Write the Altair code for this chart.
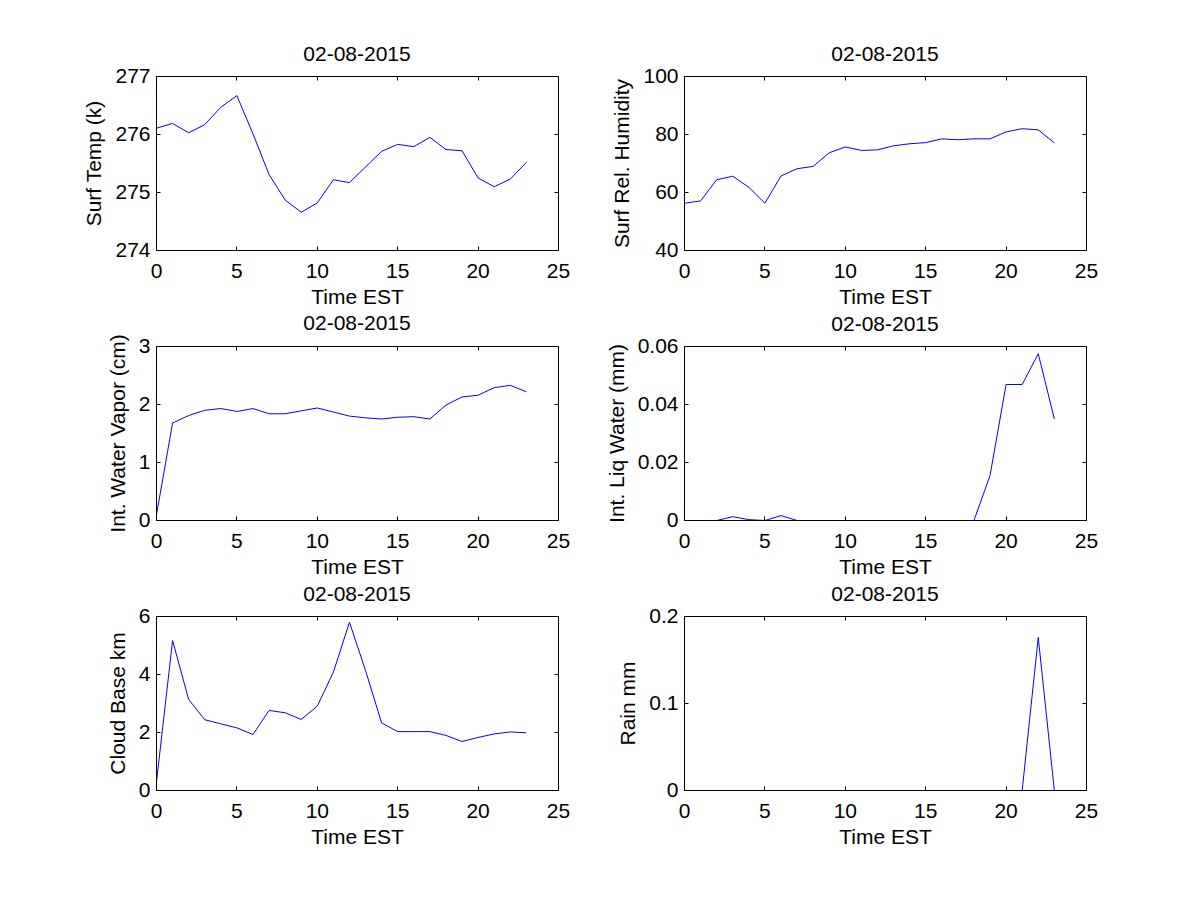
import altair as alt
import pandas as pd

hours = list(range(24))
surf_temp = [276.11, 276.19, 276.03, 276.17, 276.47, 276.67, 276.01, 275.31, 274.87, 274.66,
             274.82, 275.22, 275.17, 275.44, 275.71, 275.83, 275.79, 275.95, 275.74, 275.72,
             275.25, 275.10, 275.23, 275.52]
surf_rh = [56.3, 57.1, 64.4, 65.6, 61.8, 56.3, 65.7, 68.2, 69.0, 73.7, 75.7, 74.5, 74.7, 76.1,
           76.8, 77.2, 78.5, 78.2, 78.5, 78.5, 80.9, 82.0, 81.6, 77.1]
water_vapor = [0.1, 1.68, 1.81, 1.90, 1.93, 1.88, 1.93, 1.84, 1.84, 1.89, 1.94, 1.87, 1.80, 1.77,
               1.75, 1.78, 1.79, 1.75, 1.99, 2.13, 2.16, 2.29, 2.33, 2.22]
liq_water = [0, 0, 0, 0.0013, 0.0003, 0, 0.0017, 0, 0, 0, 0, 0, 0, 0, 0, 0, 0, 0, 0, 0.0155,
             0.0469, 0.0469, 0.0575, 0.035]
cloud_base = [0.3, 5.17, 3.14, 2.44, 2.30, 2.16, 1.93, 2.76, 2.68, 2.45, 2.91, 4.08, 5.80, 4.14,
              2.33, 2.03, 2.03, 2.03, 1.90, 1.69, 1.83, 1.95, 2.02, 1.99]
rain = [0, 0, 0, 0, 0, 0, 0, 0, 0, 0, 0, 0, 0, 0, 0, 0, 0, 0, 0, 0, 0, 0, 0.176, 0]

title_text = "02-08-2015"
x_title = "Time EST"
x_ticks = [0, 5, 10, 15, 20, 25]

W, H = 402, 174
FONT = "Liberation Sans"
FS = 21


def panel(values, ylabel, ydomain, yticks, fmt):
    df = pd.DataFrame({"t": hours, "v": values})
    xs = alt.Scale(domain=[0, 25], nice=False, zero=False)
    ys = alt.Scale(domain=ydomain, nice=False, zero=False)
    common = dict(grid=False, zindex=1, domainColor="black", tickColor="black",
                  labelColor="black", titleColor="black", domainWidth=1, tickWidth=1)
    base = alt.Chart(df)
    a = base.mark_line(color="#0000ff", strokeWidth=1, yOffset=0.5, xOffset=0.5).encode(
        x=alt.X("t:Q", scale=xs, axis=alt.Axis(orient="bottom", title=x_title, values=x_ticks,
                                                ticks=False, labelFlush=False, labelOverlap=False,
                                                labelPadding=10, titlePadding=5, format="d", **common)),
        y=alt.Y("v:Q", scale=ys, axis=alt.Axis(orient="left", title=ylabel, values=yticks,
                                                ticks=False, labelFlush=False, labelOverlap=False,
                                                labelPadding=6, titlePadding=10, format=fmt, **common)),
    )
    b = base.mark_line(opacity=0).encode(
        x=alt.X("t:Q", scale=xs, axis=alt.Axis(orient="top", offset=-H, title="", labels=False,
                                                domain=False, values=x_ticks, tickSize=4, **common)),
        y=alt.Y("v:Q", scale=ys, axis=alt.Axis(orient="right", offset=-W, title="", labels=False,
                                                domain=False, values=yticks, tickSize=4, **common)),
    )
    c = base.mark_line(opacity=0).encode(
        x=alt.X("t:Q", scale=xs, axis=alt.Axis(orient="bottom", offset=-H, title="", labels=False,
                                                values=x_ticks, tickSize=4, **common)),
        y=alt.Y("v:Q", scale=ys, axis=alt.Axis(orient="left", offset=-W, title="", labels=False,
                                                values=yticks, tickSize=4, **common)),
    )
    return alt.layer(a, b, c).resolve_axis(x="independent", y="independent").properties(
        width=W, height=H,
        title=alt.TitleParams(title_text, anchor="middle", offset=0, fontSize=FS, font=FONT,
                              fontWeight="normal", color="black"),
    )


panels = [
    panel(surf_temp, "Surf Temp (k)", [274, 277], [274, 275, 276, 277], "d"),
    panel(surf_rh, "Surf Rel. Humidity", [40, 100], [40, 60, 80, 100], "d"),
    panel(water_vapor, "Int. Water Vapor (cm)", [0, 3], [0, 1, 2, 3], "d"),
    panel(liq_water, "Int. Liq Water (mm)", [0, 0.06], [0, 0.02, 0.04, 0.06], ".2~f"),
    panel(cloud_base, "Cloud Base km", [0, 6], [0, 2, 4, 6], "d"),
    panel(rain, "Rain mm", [0, 0.2], [0, 0.1, 0.2], ".1~f"),
]

chart = alt.concat(*panels, columns=2, spacing={"row": 96, "column": 126}, bounds="flush").configure(
    background="white",
    padding={"left": 75, "top": 36, "right": 5, "bottom": 5},
).configure_view(stroke=None).configure_axis(
    labelFont=FONT, titleFont=FONT, labelFontSize=FS, titleFontSize=FS, titleFontWeight="normal",
)

chart.save("out.html", embed_options={"renderer": "svg", "actions": False})
